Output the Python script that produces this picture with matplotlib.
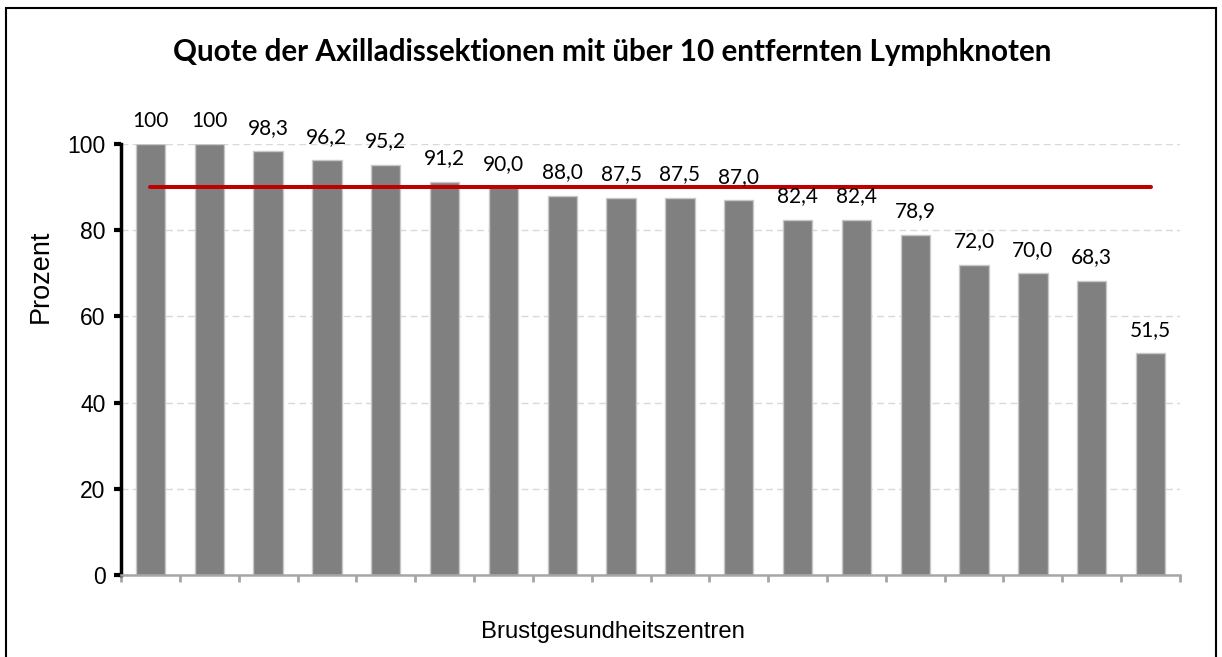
import matplotlib
matplotlib.use("Agg")
import matplotlib.pyplot as plt
from matplotlib.patches import Rectangle

values = [100, 100, 98.3, 96.2, 95.2, 91.2, 90.0, 88.0, 87.5, 87.5, 87.0,
          82.4, 82.4, 78.9, 72.0, 70.0, 68.3, 51.5]
labels = ["100", "100", "98,3", "96,2", "95,2", "91,2", "90,0", "88,0", "87,5",
          "87,5", "87,0", "82,4", "82,4", "78,9", "72,0", "70,0", "68,3", "51,5"]
target = 90
yticks = [0, 20, 40, 60, 80, 100]
title = "Quote der Axilladissektionen mit über 10 entfernten Lymphknoten"
xlabel = "Brustgesundheitszentren"
ylabel = "Prozent"

fig = plt.figure(figsize=(12.22, 6.57), dpi=100)
ax = fig.add_axes([121/1222, 1-575/657, (1180-121)/1222, (575-144)/657])

n = len(values)
x = list(range(n))
ax.bar(x, values, width=0.5, color="#808080", edgecolor="#c8c8c8", linewidth=1, zorder=2)
ax.plot([0, n-1], [target, target], color="#c00000", lw=2.9, solid_capstyle="round", zorder=3)

for xi, v, lab in zip(x, values, labels):
    ax.annotate(lab, (xi, v), xytext=(0, 12.5), textcoords="offset points",
                ha="center", va="baseline", fontsize=15, family="Lato", color="black")

ax.set_xlim(-0.5, n-0.5)
ax.set_ylim(0, 100)
ax.set_yticks(yticks)
ax.set_yticklabels([str(t) for t in yticks], fontsize=16.5, family="Liberation Sans")
ax.set_xticks([i-0.5 for i in range(n+1)])
ax.set_xticklabels([])
ax.yaxis.grid(True, linestyle=(0, (5, 3)), color="#d9d9d9", lw=1, zorder=0)
ax.set_axisbelow(True)

for s in ["top", "right"]:
    ax.spines[s].set_visible(False)
ax.spines["left"].set_linewidth(2.5)
ax.spines["left"].set_color("black")
ax.spines["bottom"].set_linewidth(1.8)
ax.spines["bottom"].set_color("#a6a6a6")
ax.tick_params(axis="y", length=5, width=3, color="black", pad=6)
ax.tick_params(axis="x", length=5, width=2, color="#a6a6a6", direction="out")

fig.text(612/1222, 1-52/657, title, ha="center", va="center", fontsize=21.3,
         family="Lato", fontweight="bold")
fig.text(41/1222, 1-276/657, ylabel, ha="center", va="center", rotation=90,
         fontsize=19.5, family="Liberation Sans")
fig.text(613/1222, 1-632/657, xlabel, ha="center", va="center",
         fontsize=17.2, family="Liberation Sans")

fig.patches.append(Rectangle((6/1222, -0.05), (1216-6)/1222, 1-8/657+0.05,
                             transform=fig.transFigure, fill=False, edgecolor="black",
                             lw=1.5, zorder=10))

fig.savefig("out.png", dpi=100)
